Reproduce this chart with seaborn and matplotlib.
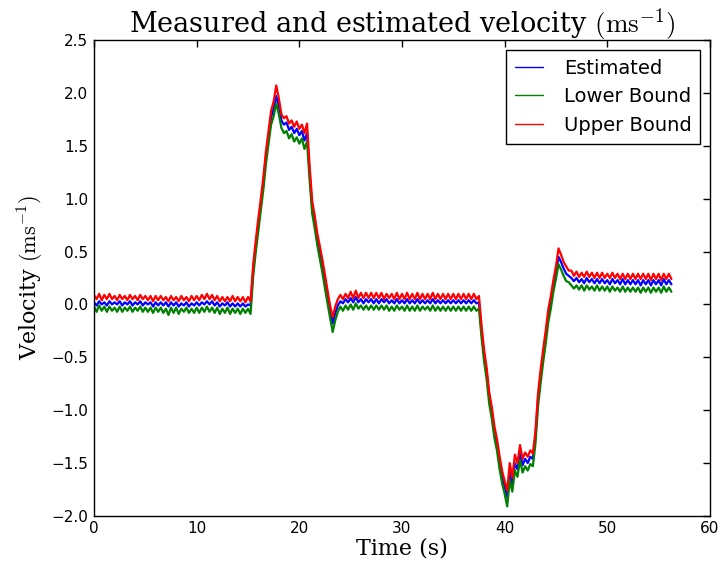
import numpy as np
import pandas as pd
import matplotlib
matplotlib.use("Agg")
import matplotlib.pyplot as plt
import seaborn as sns

TIME_STEP = 0.25  # sample spacing in seconds

estimated = [
    0.02, -0.01, 0.03, 0.00, 0.02, -0.01, 0.03, 0.00, 0.02, 0.00,
    0.03, -0.01, 0.02, 0.00, 0.03, -0.01, 0.02, 0.00, 0.03, -0.01,
    0.02, 0.00, 0.02, -0.02, 0.02, -0.01, 0.02, -0.01, 0.02, -0.02,
    0.02, -0.01, 0.02, -0.02, 0.01, -0.01, 0.02, -0.02, 0.01, -0.01,
    0.02, -0.01, 0.02, 0.00, 0.03, 0.00, 0.03, -0.01, 0.02, -0.02,
    0.01, -0.01, 0.02, -0.02, 0.01, -0.02, 0.01, -0.02, 0.01, -0.02,
    0.00, -0.01, 0.32, 0.55, 0.75, 0.95, 1.15, 1.40, 1.58, 1.77,
    1.85, 1.97, 1.88, 1.74, 1.70, 1.72, 1.65, 1.68, 1.62, 1.66,
    1.60, 1.64, 1.55, 1.62, 1.25, 0.92, 0.78, 0.62, 0.50, 0.36,
    0.22, 0.08, -0.06, -0.18, -0.08, -0.01, 0.03, 0.01, 0.05, 0.02,
    0.06, 0.02, 0.07, 0.02, 0.05, 0.01, 0.05, 0.02, 0.05, 0.01,
    0.05, 0.01, 0.05, 0.02, 0.05, 0.01, 0.04, 0.01, 0.05, 0.01,
    0.04, 0.01, 0.05, 0.01, 0.04, 0.01, 0.05, 0.01, 0.04, 0.01,
    0.04, 0.01, 0.05, 0.01, 0.04, 0.01, 0.04, 0.01, 0.04, 0.01,
    0.04, 0.01, 0.04, 0.01, 0.04, 0.01, 0.04, 0.01, 0.04, 0.01,
    0.02, -0.25, -0.48, -0.65, -0.88, -1.02, -1.20, -1.32, -1.48, -1.62,
    -1.72, -1.82, -1.58, -1.70, -1.50, -1.56, -1.40, -1.52, -1.46, -1.50,
    -1.44, -1.46, -1.25, -0.90, -0.68, -0.48, -0.30, -0.10, 0.03, 0.18,
    0.30, 0.45, 0.40, 0.34, 0.29, 0.27, 0.25, 0.22, 0.25, 0.21,
    0.24, 0.20, 0.25, 0.21, 0.24, 0.20, 0.24, 0.20, 0.24, 0.20,
    0.23, 0.19, 0.24, 0.20, 0.23, 0.19, 0.24, 0.19, 0.23, 0.19,
    0.23, 0.19, 0.23, 0.18, 0.23, 0.19, 0.23, 0.18, 0.23, 0.19,
    0.23, 0.18, 0.24, 0.19, 0.23, 0.19,
]

upper_bound = [
    0.09, 0.05, 0.10, 0.04, 0.09, 0.05, 0.10, 0.05, 0.08, 0.04,
    0.09, 0.05, 0.08, 0.04, 0.09, 0.05, 0.08, 0.04, 0.09, 0.05,
    0.08, 0.04, 0.08, 0.03, 0.08, 0.04, 0.08, 0.04, 0.07, 0.03,
    0.08, 0.04, 0.07, 0.03, 0.08, 0.04, 0.07, 0.03, 0.08, 0.04,
    0.08, 0.04, 0.09, 0.05, 0.10, 0.05, 0.09, 0.04, 0.08, 0.03,
    0.07, 0.03, 0.07, 0.03, 0.08, 0.03, 0.07, 0.03, 0.07, 0.02,
    0.07, 0.03, 0.37, 0.60, 0.81, 1.00, 1.21, 1.45, 1.64, 1.83,
    1.92, 2.07, 1.95, 1.80, 1.76, 1.78, 1.71, 1.74, 1.68, 1.73,
    1.66, 1.70, 1.62, 1.71, 1.31, 0.98, 0.84, 0.67, 0.55, 0.42,
    0.28, 0.13, -0.01, -0.12, -0.02, 0.05, 0.09, 0.05, 0.10, 0.06,
    0.12, 0.06, 0.13, 0.06, 0.11, 0.06, 0.11, 0.06, 0.11, 0.06,
    0.11, 0.06, 0.11, 0.05, 0.10, 0.06, 0.10, 0.05, 0.11, 0.05,
    0.10, 0.05, 0.11, 0.05, 0.10, 0.05, 0.11, 0.05, 0.10, 0.05,
    0.10, 0.05, 0.11, 0.05, 0.10, 0.05, 0.10, 0.05, 0.10, 0.05,
    0.10, 0.05, 0.10, 0.05, 0.10, 0.05, 0.10, 0.05, 0.10, 0.05,
    0.08, -0.20, -0.43, -0.60, -0.83, -0.97, -1.15, -1.27, -1.43, -1.57,
    -1.67, -1.76, -1.50, -1.64, -1.42, -1.50, -1.33, -1.46, -1.40, -1.44,
    -1.38, -1.41, -1.20, -0.85, -0.62, -0.43, -0.25, -0.05, 0.08, 0.23,
    0.36, 0.53, 0.47, 0.40, 0.36, 0.32, 0.32, 0.27, 0.31, 0.26,
    0.30, 0.26, 0.31, 0.26, 0.30, 0.25, 0.30, 0.25, 0.30, 0.25,
    0.29, 0.25, 0.30, 0.25, 0.29, 0.24, 0.29, 0.24, 0.29, 0.24,
    0.29, 0.24, 0.29, 0.24, 0.29, 0.24, 0.29, 0.23, 0.29, 0.24,
    0.29, 0.23, 0.29, 0.24, 0.29, 0.24,
]

lower_bound = [
    -0.02, -0.07, -0.01, -0.06, -0.02, -0.07, -0.02, -0.06, -0.03, -0.07,
    -0.02, -0.07, -0.03, -0.06, -0.02, -0.07, -0.03, -0.06, -0.02, -0.07,
    -0.03, -0.07, -0.03, -0.08, -0.03, -0.07, -0.03, -0.08, -0.04, -0.10,
    -0.03, -0.08, -0.03, -0.09, -0.04, -0.07, -0.03, -0.08, -0.04, -0.08,
    -0.03, -0.08, -0.03, -0.07, -0.02, -0.07, -0.03, -0.08, -0.03, -0.09,
    -0.04, -0.08, -0.03, -0.09, -0.04, -0.08, -0.04, -0.09, -0.04, -0.08,
    -0.04, -0.09, 0.26, 0.49, 0.69, 0.89, 1.09, 1.33, 1.52, 1.70,
    1.78, 1.90, 1.80, 1.67, 1.62, 1.64, 1.57, 1.61, 1.54, 1.58,
    1.52, 1.57, 1.47, 1.54, 1.18, 0.86, 0.72, 0.56, 0.43, 0.30,
    0.15, 0.01, -0.13, -0.26, -0.15, -0.07, -0.02, -0.06, -0.01, -0.05,
    0.00, -0.05, 0.01, -0.04, -0.01, -0.05, -0.01, -0.05, -0.01, -0.05,
    -0.01, -0.05, -0.01, -0.05, -0.01, -0.06, -0.02, -0.06, -0.01, -0.05,
    -0.02, -0.06, -0.01, -0.06, -0.02, -0.06, -0.01, -0.06, -0.02, -0.05,
    -0.02, -0.06, -0.01, -0.06, -0.02, -0.06, -0.02, -0.06, -0.02, -0.06,
    -0.02, -0.06, -0.02, -0.06, -0.02, -0.06, -0.02, -0.06, -0.02, -0.06,
    -0.04, -0.31, -0.54, -0.71, -0.94, -1.08, -1.26, -1.38, -1.55, -1.69,
    -1.79, -1.91, -1.66, -1.77, -1.57, -1.63, -1.47, -1.59, -1.53, -1.57,
    -1.51, -1.53, -1.32, -0.97, -0.75, -0.55, -0.37, -0.17, -0.04, 0.12,
    0.24, 0.38, 0.33, 0.27, 0.22, 0.21, 0.18, 0.15, 0.18, 0.14,
    0.18, 0.13, 0.18, 0.14, 0.17, 0.13, 0.18, 0.13, 0.17, 0.13,
    0.17, 0.12, 0.17, 0.13, 0.16, 0.12, 0.17, 0.12, 0.16, 0.12,
    0.16, 0.12, 0.16, 0.11, 0.16, 0.12, 0.16, 0.11, 0.16, 0.12,
    0.16, 0.11, 0.17, 0.12, 0.16, 0.12,
]

series_names = ["Estimated", "Lower Bound", "Upper Bound"]
series_colors = ["#0000ff", "#008000", "#ff0000"]

time = np.arange(len(estimated)) * TIME_STEP

sns.set_style("white")
plt.rcParams["font.family"] = ["DejaVu Sans"]
plt.rcParams["mathtext.fontset"] = "cm"
plt.rcParams["xtick.direction"] = "in"
plt.rcParams["ytick.direction"] = "in"
plt.rcParams["text.color"] = "black"
plt.rcParams["axes.labelcolor"] = "black"

fig = plt.figure(figsize=(7.2, 5.72), dpi=100)
ax = fig.add_axes([0.1306, 0.098, 0.8554, 0.832])

for name, vals, col in zip(series_names, [estimated, lower_bound, upper_bound], series_colors):
    df = pd.DataFrame({"t": time, "v": vals})
    sns.lineplot(data=df, x="t", y="v", color=col, lw=1.6, label=name, ax=ax,
                 estimator=None, sort=False)

ax.set_xlim(0, 60)
ax.set_ylim(-2.0, 2.5)
ax.set_xticks(np.arange(0, 61, 10))
ax.set_yticks(np.arange(-2.0, 2.51, 0.5))
ax.set_yticklabels([f"{v:.1f}".replace("-", "\u2212") for v in np.arange(-2.0, 2.51, 0.5)])
ax.tick_params(axis="both", which="major", labelsize=11, length=5, width=1,
               top=True, right=True, colors="black", pad=4)
for s in ax.spines.values():
    s.set_color("black")
    s.set_linewidth(1.0)

serif = {"family": "DejaVu Serif", "size": 16, "color": "black"}
ax.set_xlabel("Time (s)", fontdict=serif, labelpad=1)
ax.set_ylabel(r"Velocity $(\mathrm{ms}^{-1})$", fontdict=serif, labelpad=4)
ax.set_title(r"Measured and estimated velocity $(\mathrm{ms}^{-1})$",
             fontdict={"family": "DejaVu Serif", "size": 19.5, "color": "black"}, pad=5)

leg = ax.legend(loc="upper right", fontsize=14, frameon=True, fancybox=False,
                edgecolor="black", framealpha=1.0, handlelength=1.45,
                borderpad=0.45, labelspacing=0.5, handletextpad=1.08,
                borderaxespad=0.5)
leg.get_frame().set_linewidth(1.0)
for h in leg.get_lines():
    h.set_linewidth(1.0)
for t in leg.get_texts():
    t.set_color("black")

fig.savefig("out.png", dpi=100)
